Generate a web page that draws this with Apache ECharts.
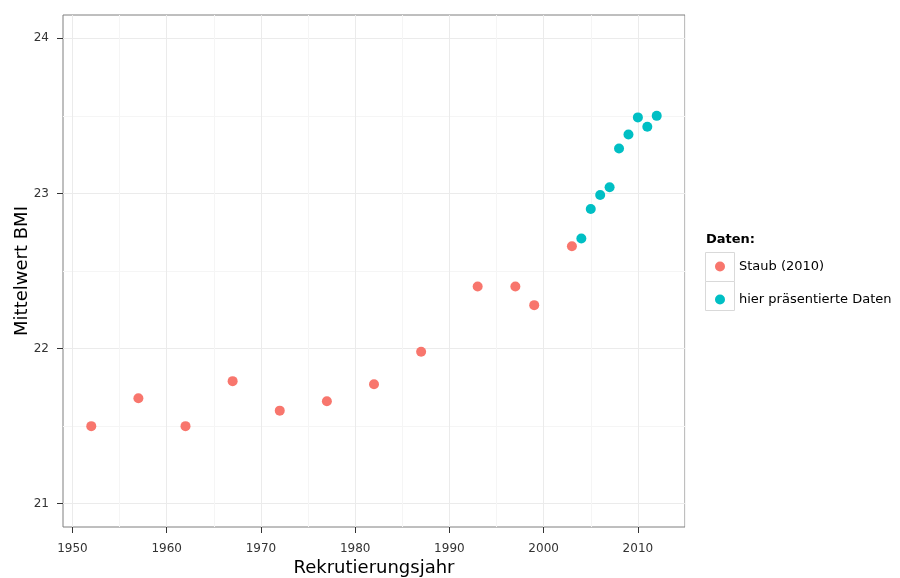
<!DOCTYPE html>
<html><head><meta charset="utf-8">
<script src="https://cdn.jsdelivr.net/npm/echarts@6/dist/echarts.min.js"></script>
<style>html,body{margin:0;padding:0;background:#fff}#c{width:900px;height:578px}</style>
</head><body><div id="c"></div>
<script>
const staubYears = [1952,1957,1962,1967,1972,1977,1982,1987,1993,1997,1999,2003];
const staubBMI   = [21.50,21.68,21.50,21.79,21.60,21.66,21.77,21.98,22.40,22.40,22.28,22.66];
const hierYears  = [2004,2005,2006,2007,2008,2009,2010,2011,2012];
const hierBMI    = [22.71,22.90,22.99,23.04,23.29,23.38,23.49,23.43,23.50];
const xTicks = [1950,1960,1970,1980,1990,2000,2010];
const xMinor = [1955,1965,1975,1985,1995,2005,2015];
const yTicks = [21,22,23,24];
const yMinor = [21.5,22.5,23.5];
const seriesNames = ['Staub (2010)','hier präsentierte Daten'];
const colors = ['#F8766D','#00BFC4'];

const F = 'DejaVu Sans, sans-serif';
const chart = echarts.init(document.getElementById('c'));
const grid = {left:63, right:215, top:15, bottom:51, outerBoundsMode:'none', containLabel:false,
  show:true, borderColor:'#7f7f7f', borderWidth:1, backgroundColor:'#fff'};
const xBase = {type:'value', min:1949, max:2015, gridIndex:0};
const yBase = {type:'value', min:20.85, max:24.15, gridIndex:0};
chart.setOption({
  animation:false,
  grid: grid,
  xAxis:[
    Object.assign({}, xBase, {
      position:'bottom',
      axisLine:{show:false},
      axisTick:{show:false, customValues:xMinor},
      axisLabel:{show:false},
      splitLine:{show:true, lineStyle:{color:'#f5f5f5', width:1}}
    }),
    Object.assign({}, xBase, {
      position:'bottom',
      name:'Rekrutierungsjahr', nameLocation:'middle', nameGap:32, nameMoveOverlap:false,
      nameTextStyle:{fontFamily:F, fontSize:18, color:'#000'},
      axisLine:{show:false},
      axisTick:{show:true, length:6, inside:false, customValues:xTicks, lineStyle:{color:'#333'}},
      axisLabel:{show:true, customValues:xTicks, fontFamily:F, fontSize:12, color:'#333', margin:16, formatter:v=>String(v)},
      splitLine:{show:true, lineStyle:{color:'#ebebeb', width:1}}
    })
  ],
  yAxis:[
    Object.assign({}, yBase, {
      position:'left',
      axisLine:{show:false},
      axisTick:{show:false, customValues:yMinor},
      axisLabel:{show:false},
      splitLine:{show:true, lineStyle:{color:'#f5f5f5', width:1}}
    }),
    Object.assign({}, yBase, {
      position:'left',
      name:'Mittelwert BMI', nameLocation:'middle', nameGap:32, nameRotate:90, nameMoveOverlap:false,
      nameTextStyle:{fontFamily:F, fontSize:18, color:'#000'},
      axisLine:{show:false},
      axisTick:{show:true, length:6, inside:false, customValues:yTicks, lineStyle:{color:'#333'}},
      axisLabel:{show:true, customValues:yTicks, fontFamily:F, fontSize:12, color:'#333', margin:14, formatter:v=>String(v)},
      splitLine:{show:true, lineStyle:{color:'#ebebeb', width:1}}
    })
  ],
  legend:{
    orient:'vertical', left:715, top:260, padding:0, itemGap:20,
    itemWidth:10, itemHeight:10, icon:'circle',
    data:seriesNames,
    textStyle:{fontFamily:F, fontSize:13, color:'#000', padding:[0,0,0,9], lineHeight:10}
  },
  graphic:[
    {type:'text', left:706, top:233, style:{text:'Daten:', font:'bold 13px '+F, fill:'#000'}},
    {type:'rect', shape:{x:705.5, y:252.5, width:29, height:29}, style:{fill:'#fff', stroke:'#d9d9d9', lineWidth:1}, z:-1},
    {type:'rect', shape:{x:705.5, y:281.5, width:29, height:29}, style:{fill:'#fff', stroke:'#d9d9d9', lineWidth:1}, z:-1}
  ],
  series:[
    {name:seriesNames[0], type:'scatter', xAxisIndex:1, yAxisIndex:1, symbolSize:10,
     itemStyle:{color:colors[0], opacity:1}, data:staubYears.map((y,i)=>[y,staubBMI[i]])},
    {name:seriesNames[1], type:'scatter', xAxisIndex:1, yAxisIndex:1, symbolSize:10,
     itemStyle:{color:colors[1], opacity:1}, data:hierYears.map((y,i)=>[y,hierBMI[i]])}
  ]
});
</script></body></html>
